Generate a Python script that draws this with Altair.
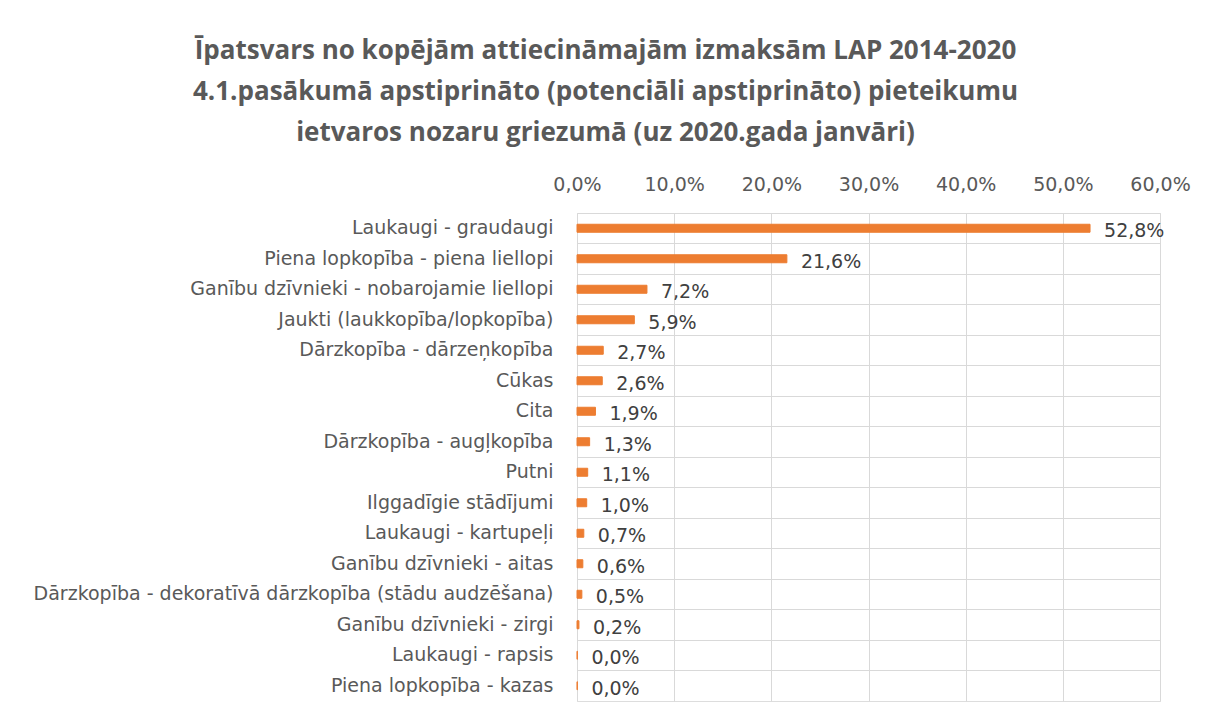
import altair as alt
import pandas as pd

categories = [
    "Laukaugi - graudaugi",
    "Piena lopkopība - piena liellopi",
    "Ganību dzīvnieki - nobarojamie liellopi",
    "Jaukti (laukkopība/lopkopība)",
    "Dārzkopība - dārzeņkopība",
    "Cūkas",
    "Cita",
    "Dārzkopība - augļkopība",
    "Putni",
    "Ilggadīgie stādījumi",
    "Laukaugi - kartupeļi",
    "Ganību dzīvnieki - aitas",
    "Dārzkopība - dekoratīvā dārzkopība (stādu audzēšana)",
    "Ganību dzīvnieki - zirgi",
    "Laukaugi - rapsis",
    "Piena lopkopība - kazas",
]
values = [52.8, 21.6, 7.2, 5.9, 2.7, 2.6, 1.9, 1.3, 1.1, 1.0, 0.7, 0.6, 0.5, 0.2, 0.04, 0.04]
x_ticks = [0, 10, 20, 30, 40, 50, 60]
title_lines = [
    "Īpatsvars no kopējām attiecināmajām izmaksām  LAP 2014-2020",
    "4.1.pasākumā  apstiprināto (potenciāli apstiprināto) pieteikumu",
    "ietvaros nozaru griezumā (uz 2020.gada  janvāri)",
]

df = pd.DataFrame({"cat": categories, "v": values})

FONT = "DejaVu Sans"
TFONT = "Open Sans"
GRID = "#d9d9d9"
TXT = "#595959"

y_enc = alt.Y(
    "cat:N",
    sort=categories,
    scale=alt.Scale(paddingInner=0, paddingOuter=0),
    axis=alt.Axis(
        title=None,
        grid=True,
        gridColor=GRID,
        gridWidth=1,
        bandPosition=0,
        domain=False,
        ticks=False,
        labelPadding=24,
        labelFont=FONT,
        labelFontSize=19,
        labelColor=TXT,
        labelLimit=600,
        minExtent=560,
        maxExtent=560,
    ),
)

x_enc = alt.X(
    "v:Q",
    scale=alt.Scale(domain=[0, 60], nice=False),
    axis=alt.Axis(
        title=None,
        orient="top",
        values=x_ticks,
        grid=True,
        gridColor=GRID,
        gridWidth=1,
        domain=False,
        ticks=False,
        labelFlush=False,
        labelPadding=19,
        labelFont=FONT,
        labelFontSize=19,
        labelColor=TXT,
        labelExpr="replace(format(datum.value, '.1f'), '.', ',') + '%'",
        minExtent=45,
        maxExtent=45,
    ),
)

bars = alt.Chart(df).mark_bar(
    color="#ED7D31", size=8, stroke="#ED7D31", strokeWidth=1
).encode(x=x_enc, y=y_enc)

labels = (
    alt.Chart(df)
    .transform_calculate(lbl="replace(format(datum.v, '.1f'), '.', ',') + '%'")
    .mark_text(align="left", baseline="middle", dx=14, dy=3, font=FONT, fontSize=19, color="#404040")
    .encode(x="v:Q", y=alt.Y("cat:N", sort=categories), text="lbl:N")
)

chart = (
    alt.layer(bars, labels)
    .properties(
        width=583,
        height=488,
        padding={"left": 9, "top": 30, "right": 0, "bottom": 5},
        title=alt.TitleParams(
            text=title_lines,
            font=TFONT,
            fontSize=26,
            fontWeight="bold",
            color=TXT,
            lineHeight=41,
            anchor="middle",
            dx=-263,
            offset=22,
        ),
    )
    .configure_view(stroke=GRID, strokeWidth=1)
    .configure(background="white")
)

chart.save("out.html", embed_options={"renderer": "svg", "actions": False})
